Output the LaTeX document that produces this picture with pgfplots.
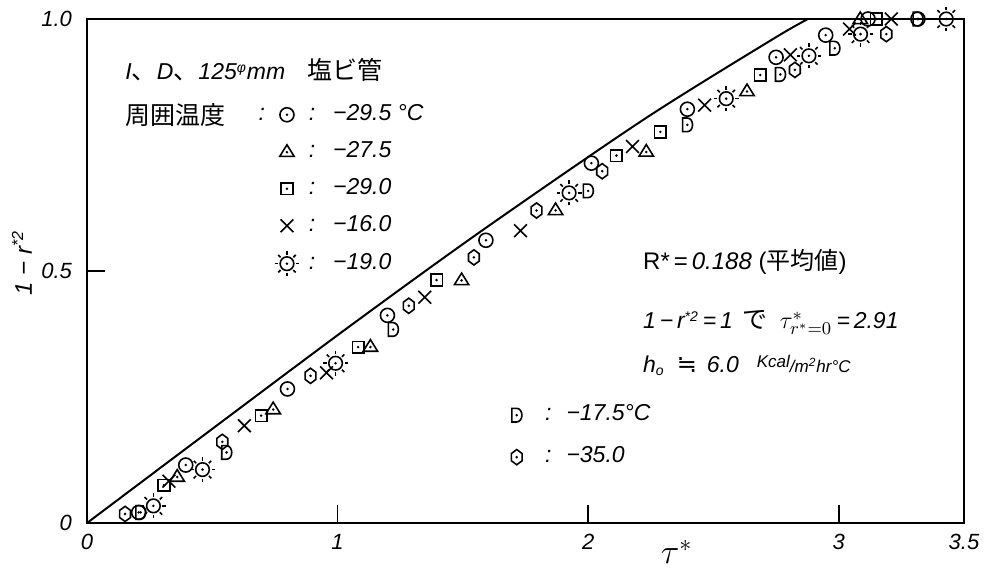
\documentclass[border=0pt]{standalone}
\usepackage{pgfplots}
\pgfplotsset{compat=1.18}
\usepackage{fontspec}
\setmainfont{Liberation Sans}
\newfontfamily\jp{Noto Sans CJK JP}
\newfontfamily\djv{DejaVu Sans}
\newcommand{\lt}{\fontsize{11.5}{13}\selectfont\itshape}
\newcommand{\jt}{\fontsize{12.5}{14}\selectfont\jp}

\pgfdeclareplotmark{dcirc}{%
  \pgfpathcircle{\pgfpointorigin}{3.5pt}\pgfusepathqstroke
  \pgfpathcircle{\pgfpointorigin}{0.7pt}\pgfusepathqfill}
\pgfdeclareplotmark{dtri}{%
  \pgfpathmoveto{\pgfpoint{-3.6pt}{-2.3pt}}%
  \pgfpathlineto{\pgfpoint{3.6pt}{-2.3pt}}%
  \pgfpathlineto{\pgfpoint{0pt}{3.5pt}}%
  \pgfpathclose\pgfusepathqstroke
  \pgfpathcircle{\pgfpoint{0pt}{-0.2pt}}{0.7pt}\pgfusepathqfill}
\pgfdeclareplotmark{dsq}{%
  \pgfpathrectangle{\pgfpoint{-2.9pt}{-2.9pt}}{\pgfpoint{5.8pt}{5.8pt}}\pgfusepathqstroke
  \pgfpathcircle{\pgfpointorigin}{0.7pt}\pgfusepathqfill}
\pgfdeclareplotmark{xx}{%
  \pgfpathmoveto{\pgfpoint{-3.2pt}{-3.2pt}}\pgfpathlineto{\pgfpoint{3.2pt}{3.2pt}}%
  \pgfpathmoveto{\pgfpoint{-3.2pt}{3.2pt}}\pgfpathlineto{\pgfpoint{3.2pt}{-3.2pt}}%
  \pgfusepathqstroke}
\pgfdeclareplotmark{sun}{%
  \pgfpathcircle{\pgfpointorigin}{3.4pt}\pgfusepathqstroke
  \pgfpathcircle{\pgfpointorigin}{0.7pt}\pgfusepathqfill
  \foreach \a in {0,45,...,315}{%
    \pgfpathmoveto{\pgfpointpolar{\a}{4.5pt}}%
    \pgfpathlineto{\pgfpointpolar{\a}{6.2pt}}%
    \pgfusepathqstroke}}
\pgfdeclareplotmark{dD}{%
  \pgfpathmoveto{\pgfpoint{0pt}{-3.4pt}}%
  \pgfpatharc{-90}{90}{2.6pt and 3.4pt}%
  \pgfpathlineto{\pgfpoint{-2.4pt}{3.4pt}}%
  \pgfpathlineto{\pgfpoint{-2.4pt}{-3.4pt}}%
  \pgfpathclose\pgfusepathqstroke
  \pgfpathcircle{\pgfpointorigin}{0.7pt}\pgfusepathqfill}
\pgfdeclareplotmark{dhex}{%
  \pgfpathmoveto{\pgfpoint{0pt}{3.8pt}}%
  \pgfpathlineto{\pgfpoint{2.7pt}{1.8pt}}%
  \pgfpathlineto{\pgfpoint{2.7pt}{-1.8pt}}%
  \pgfpathlineto{\pgfpoint{0pt}{-3.8pt}}%
  \pgfpathlineto{\pgfpoint{-2.7pt}{-1.8pt}}%
  \pgfpathlineto{\pgfpoint{-2.7pt}{1.8pt}}%
  \pgfpathclose\pgfusepathqstroke
  \pgfpathcircle{\pgfpointorigin}{0.7pt}\pgfusepathqfill}

\pgfplotsset{
  common/.style={
    at={(0,0)}, anchor=south west,
    scale only axis, width=438.5pt, height=252pt,
    xmin=0, xmax=3.5, ymin=0, ymax=1, clip=false,
  },
  mk/.style={only marks, mark=#1, mark options={line width=0.8pt, black}},
}

\begin{document}
\begin{tikzpicture}
\path[use as bounding box] (-43.5pt,-23.5pt) rectangle (448.5pt,261.5pt);
\begin{axis}[common,
  axis line style={line width=1pt},
  tick align=inside, tick pos=left,
  major tick length=9pt,
  tick style={line width=0.8pt, black},
  xtick={0,1,2,3,3.5}, xticklabels={0,1,2,3,3.5},
  ytick={0,0.5,1}, yticklabels={0,0.5,1.0},
  ticklabel style={font=\fontsize{11}{13}\selectfont\itshape},
  xticklabel style={yshift=-2pt},
  yticklabel style={xshift=-4pt},
  xlabel={\fontsize{18}{20}\selectfont$\tau^{*}$},
  xlabel style={at={([yshift=-14.5pt]rel axis cs:0.6724,0)}, anchor=center, inner sep=0pt},
  ylabel={\fontsize{12}{14}\selectfont\itshape 1 − r\textsuperscript{*2}},
  ylabel style={at={([xshift=-32.5pt]rel axis cs:0,0.516)}, anchor=center},
  legend style={draw=none, fill=none, inner sep=0pt, outer sep=0pt,
    at={(axis cs:0.798,0.810)}, anchor=north west, xshift=-6.2pt, yshift=5.75pt,
    row sep=7pt, column sep=4.7pt, font=\lt,
    nodes={inner sep=0pt, text height=8.5pt, text depth=3pt}},
  legend cell align=left,
]
\addplot[black, line width=1pt, smooth, forget plot] coordinates {
  (0,0) (0.53,0.198) (1.05,0.391) (1.57,0.578) (2.22,0.800) (2.73,0.958) (2.877,1.0)};
\addplot[mk=dcirc] coordinates {
  (0.206,0.021) (0.394,0.115) (0.800,0.266) (1.199,0.412) (1.592,0.561) (2.013,0.714)
  (2.396,0.821) (2.750,0.924) (2.948,0.968) (3.117,1.0) (3.316,1.0)};
\addlegendentry{:\hspace{9pt}−29.5 °C}
\addplot[mk=dtri] coordinates {
  (0.360,0.092) (0.743,0.226) (1.131,0.350) (1.495,0.482) (1.870,0.621) (2.232,0.737)
  (2.634,0.857) (3.086,1.0)};
\addlegendentry{:\hspace{9pt}−27.5}
\addplot[mk=dsq] coordinates {
  (0.307,0.075) (0.695,0.213) (1.082,0.349) (1.395,0.482) (2.113,0.729) (2.288,0.776)
  (2.687,0.889) (3.150,1.0)};
\addlegendentry{:\hspace{9pt}−29.0}
\addplot[mk=xx] coordinates {
  (0.327,0.083) (0.628,0.193) (0.956,0.298) (1.348,0.448) (1.730,0.580) (2.177,0.747)
  (2.465,0.829) (2.807,0.929) (3.043,0.980) (3.210,1.0)};
\addlegendentry{:\hspace{9pt}−16.0}
\addplot[mk=sun] coordinates {
  (0.265,0.034) (0.461,0.106) (0.992,0.317) (1.924,0.655) (2.551,0.842) (2.881,0.927)
  (3.087,0.970) (3.429,1.0)};
\addlegendentry{:\hspace{9pt}−19.0}

\node[anchor=west, inner sep=0pt] at (axis cs:0.152,0.899)
  {{\lt I}{\jt 、}{\lt D}{\jt 、}{\lt 125}\textsuperscript{\itshape φ}{\lt mm}\hspace{11pt}{\jt 塩ビ管}};
\node[anchor=west, inner sep=0pt] at (axis cs:0.152,0.810) {\jt 周囲温度};
\node[inner sep=0pt] at (axis cs:0.698,0.810) {\lt :};
\node[anchor=west, inner sep=0pt] at (axis cs:2.218,0.518)
  {\fontsize{12}{14}\selectfont R*\,=\,\itshape 0.188 \upshape(\jp 平均値\fontspec{Liberation Sans})};
\node[anchor=west, inner sep=0pt] at (axis cs:2.218,0.397)
  {{\lt 1\,−\,r}\textsuperscript{\itshape *2}{\lt \,=\,1}\hspace{5pt}{\jt で}\hspace{6pt}\fontsize{13}{15}\selectfont$\tau^{*}_{r^{*}=0}$\,{\lt =\,2.91}};
\node[anchor=west, inner sep=0pt] at (axis cs:2.218,0.313)
  {{\lt h}\textsubscript{\itshape o}\hspace{6pt}{\fontsize{12}{14}\selectfont\djv ≒}\hspace{5pt}{\lt 6.0}\hspace{9pt}{\fontsize{8.5}{10}\selectfont\itshape\raisebox{2.5pt}{Kcal}/m\textsuperscript{2}hr°C}};
\end{axis}

\begin{axis}[common, hide axis,
  legend style={draw=none, fill=none, inner sep=0pt, outer sep=0pt,
    at={(axis cs:1.715,0.214)}, anchor=north west, xshift=-2.7pt, yshift=5.75pt,
    row sep=9.5pt, column sep=11.5pt, font=\lt,
    nodes={inner sep=0pt, text height=8.5pt, text depth=3pt}},
  legend cell align=left,
]
\addplot[mk=dD] coordinates {
  (0.214,0.021) (0.557,0.140) (1.222,0.384) (2.000,0.659) (2.396,0.790) (2.767,0.890)
  (2.984,0.942) (3.316,1.0)};
\addlegendentry{:\hspace{7.5pt}−17.5°C}
\addplot[mk=dhex] coordinates {
  (0.152,0.018) (0.540,0.161) (0.892,0.292) (1.284,0.431) (1.544,0.527) (1.794,0.620)
  (2.056,0.698) (2.825,0.899) (3.190,0.970)};
\addlegendentry{:\hspace{7.5pt}−35.0}
\end{axis}
\end{tikzpicture}
\end{document}
